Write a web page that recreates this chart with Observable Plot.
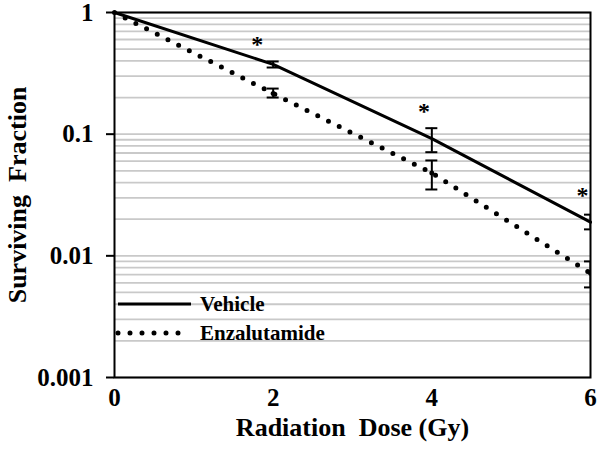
<!DOCTYPE html>
<html>
<head>
<meta charset="utf-8">
<script src="https://cdn.jsdelivr.net/npm/d3@7"></script>
<script src="https://cdn.jsdelivr.net/npm/@observablehq/plot@0.6"></script>
<style>
  html, body { margin: 0; padding: 0; background: white; }
</style>
</head>
<body>
<div id="chart"></div>
<script>
// ---- data ----
const doses = [0, 2, 4, 6];
const vehicle = [1, 0.375, 0.092, 0.0189];
const enzalutamide = [1, 0.216, 0.048, 0.0072];

const errDoses = [2, 4, 6];
const vehicleLo = [0.353, 0.0711, 0.0165];
const vehicleHi = [0.396, 0.112, 0.0218];
const enzaLo = [0.200, 0.0351, 0.0055];
const enzaHi = [0.237, 0.0608, 0.0090];

const starX = [1.8, 3.9, 5.9];
const starY = [0.589, 0.166, 0.0338];

const xTicks = [0, 2, 4, 6];
const yTicks = [1, 0.1, 0.01, 0.001];
const seriesNames = ["Vehicle", "Enzalutamide"];
const xTitle = "Radiation\u00a0 Dose (Gy)";
const yTitle = "Surviving\u00a0 Fraction";

// ---- tables ----
const rows = doses.map((d, i) => ({dose: d, vehicle: vehicle[i], enza: enzalutamide[i]}));
const errs = [
  ...errDoses.map((d, i) => ({dose: d, lo: vehicleLo[i], hi: vehicleHi[i], mid: vehicle[i + 1], s: "v"})),
  ...errDoses.map((d, i) => ({dose: d, lo: enzaLo[i], hi: enzaHi[i], mid: enzalutamide[i + 1], s: "e"}))
];
const stars = starX.map((x, i) => ({x, y: starY[i]}));

const FONT = "'Liberation Serif', 'Times New Roman', serif";

function legendMark(index, scales, values, dims) {
  const g = d3.create("svg:g")
    .attr("font-family", FONT)
    .attr("font-weight", "bold")
    .attr("font-size", 21)
    .attr("text-anchor", "start");
  const x0 = dims.marginLeft + 4;
  const bottom = dims.height - dims.marginBottom;
  const ys = [bottom - 73, bottom - 44];
  g.append("line")
    .attr("x1", x0).attr("x2", x0 + 73)
    .attr("y1", ys[0]).attr("y2", ys[0])
    .attr("stroke", "black").attr("stroke-width", 3);
  g.append("line")
    .attr("x1", x0).attr("x2", x0 + 62)
    .attr("y1", ys[1]).attr("y2", ys[1])
    .attr("stroke", "black").attr("stroke-width", 5)
    .attr("stroke-dasharray", "0 12").attr("stroke-linecap", "round");
  seriesNames.forEach((name, i) => {
    g.append("text")
      .attr("x", x0 + 82).attr("y", ys[i])
      .attr("dy", "0.32em")
      .attr("text-anchor", "start")
      .attr("fill", "black")
      .text(name);
  });
  return g.node();
}

const chart = Plot.plot({
  width: 600,
  height: 454,
  marginLeft: 114,
  marginRight: 10,
  marginTop: 12,
  marginBottom: 77,
  style: {fontFamily: FONT, fontWeight: "bold", background: "white", color: "black", overflow: "visible"},
  x: {domain: [0, 6]},
  y: {type: "log", domain: [0.001, 1]},
  marks: [
    Plot.gridY({stroke: "#c9c9c9", strokeOpacity: 1, strokeWidth: 1.8}),
    Plot.line(rows, {x: "dose", y: "vehicle", stroke: "black", strokeWidth: 3}),
    Plot.line(rows, {x: "dose", y: "enza", stroke: "black", strokeWidth: 5,
      strokeDasharray: "0 12", strokeLinecap: "round"}),
    Plot.ruleX(errs, {x: "dose", y1: "lo", y2: "hi", stroke: "black", strokeWidth: 2, clip: "frame"}),
    Plot.ruleY(errs, {x1: "dose", x2: "dose", y: "lo", insetLeft: -6, insetRight: -6,
      stroke: "black", strokeWidth: 2, clip: "frame"}),
    Plot.ruleY(errs, {x1: "dose", x2: "dose", y: "hi", insetLeft: -6, insetRight: -6,
      stroke: "black", strokeWidth: 2, clip: "frame"}),
    Plot.dot(errs.filter(d => d.s === "e"), {x: "dose", y: "mid", r: 2.5, fill: "black", clip: "frame"}),
    Plot.text(stars, {x: "x", y: "y", text: () => "*", fontSize: 24, dy: 4, fill: "black"}),
    Plot.frame({stroke: "black", strokeWidth: 2}),
    Plot.axisY({ticks: yTicks, tickFormat: d => String(d), tickSize: 8, tickPadding: 13,
      fontSize: 25, label: null, strokeWidth: 2}),
    Plot.axisX({ticks: xTicks, tickFormat: d => String(d), tickSize: 0, tickPadding: 11,
      fontSize: 25, label: null}),
    Plot.text([xTitle], {frameAnchor: "bottom", textAnchor: "middle", dy: 58, fontSize: 26, fill: "black"}),
    Plot.text([yTitle], {frameAnchor: "left", textAnchor: "middle", rotate: -90, dx: -97, fontSize: 26, fill: "black"}),
    legendMark
  ]
});

document.getElementById("chart").appendChild(chart);
</script>
</body>
</html>
